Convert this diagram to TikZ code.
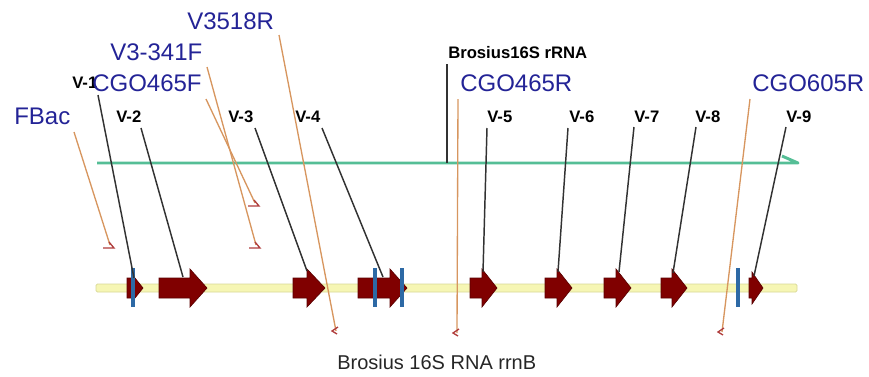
\documentclass[tikz,border=0pt]{standalone}
\usepackage{fontspec}
\setmainfont{Liberation Sans}
\usetikzlibrary{calc}

\definecolor{primerblue}{RGB}{35,35,150}
\definecolor{primerline}{RGB}{215,150,95}
\definecolor{tipred}{RGB}{175,60,60}
\definecolor{genered}{RGB}{128,0,0}
\definecolor{geneedge}{RGB}{90,0,0}
\definecolor{siteblue}{RGB}{45,105,165}
\definecolor{bbfill}{RGB}{246,246,180}
\definecolor{bbedge}{RGB}{215,215,150}
\definecolor{rnagreen}{RGB}{85,190,150}
\definecolor{leader}{RGB}{50,50,50}

% gene arrow: left x, start of head, tip x, half height of head
\newcommand\genearrow[4]{%
  \draw[gene] (#1,278) -- (#2,278) -- (#2,288-#4) -- (#3,288)
    -- (#2,288+#4) -- (#2,298) -- (#1,298) -- cycle;}
% restriction site bar
\newcommand\sitebar[1]{\fill[site] (#1-2,268) rectangle (#1+2,307);}
% primer end marks
\newcommand\slanttip[1]{\draw[tipmark] ($(#1)+(-7,3)$) -- ($(#1)+(4,3)$) -- ($(#1)+(-1,-3)$);}
\newcommand\droptip[1]{\draw[tipmark] ($(#1)+(2,-4)$) -- ($(#1)+(-4,0)$) -- ($(#1)+(1,3)$);}

\begin{document}
\begin{tikzpicture}[x=0.75pt,y=-0.75pt,
  primer/.style={font=\fontsize{18}{20}\selectfont, text=primerblue, anchor=west, inner sep=0pt},
  feat/.style={font=\bfseries\fontsize{12.5}{14}\selectfont, text=black, anchor=west, inner sep=0pt},
  caption/.style={font=\fontsize{15}{17}\selectfont, text=black!85, anchor=west, inner sep=0pt},
  leaderline/.style={draw=leader, line width=1.1pt},
  primerwire/.style={draw=primerline, line width=1pt},
  tipmark/.style={draw=tipred, line width=1pt, line join=miter},
  gene/.style={fill=genered, draw=geneedge, line width=0.5pt, line join=miter},
  site/.style={fill=siteblue, draw=none},
]
\useasboundingbox (0,0) rectangle (869,376);

% sequence backbone
\draw[fill=bbfill, draw=bbedge, line width=0.6pt, rounded corners=1pt] (96,284) rectangle (797,292);

% 16S rRNA feature with harpoon end
\coordinate (rnaL) at (97,163);
\coordinate (rnaR) at (798,163);
\coordinate (rnaH) at (782,156);
\draw[rnagreen, line width=2.2pt, line join=round] (rnaL) -- (rnaR) -- (rnaH);

% gene arrows
\genearrow{127}{135}{143}{10}
\genearrow{159}{190}{207}{19}
\genearrow{293}{307}{325}{19}
\genearrow{358}{390}{407}{19}
\genearrow{470}{482}{497}{19}
\genearrow{545}{557}{572}{19}
\genearrow{604}{616}{631}{19}
\genearrow{661}{672}{687}{19}
\genearrow{749}{752}{763}{16}

% restriction sites
\sitebar{133}
\sitebar{375}
\sitebar{402}
\sitebar{738}

% feature labels
\node[feat] (v1) at (72,83) {V-1};
\node[feat] (v2) at (116,117) {V-2};
\node[feat] (v3) at (228,117) {V-3};
\node[feat] (v4) at (295,117) {V-4};
\node[feat] (v5) at (487,117) {V-5};
\node[feat] (v6) at (569,117) {V-6};
\node[feat] (v7) at (634,117) {V-7};
\node[feat] (v8) at (695,117) {V-8};
\node[feat] (v9) at (786,117) {V-9};
\node[feat] (rna) at (448,53) {Brosius16S rRNA};

% primer labels
\node[primer] (fbac) at (14,116) {FBac};
\node[primer] (cgo465f) at (92,83) {CGO465F};
\node[primer] (v3341f) at (110,52) {V3-341F};
\node[primer] (v3518r) at (187,21) {V3518R};
\node[primer] (cgo465r) at (460,83) {CGO465R};
\node[primer] (cgo605r) at (752,83) {CGO605R};

% sequence name
\node[caption] (seqname) at (337,362) {Brosius 16S RNA rrnB};

% leader lines from labels to features
\coordinate (a1) at (98,95);   \coordinate (b1) at (134,278);
\coordinate (a2) at (141,128); \coordinate (b2) at (183,277);
\coordinate (a3) at (255,128); \coordinate (b3) at (307,271);
\coordinate (a4) at (322,128); \coordinate (b4) at (383,277);
\coordinate (a5) at (487,128); \coordinate (b5) at (483,272);
\coordinate (a6) at (568,128); \coordinate (b6) at (558,272);
\coordinate (a7) at (634,127); \coordinate (b7) at (619,272);
\coordinate (a8) at (696,127); \coordinate (b8) at (673,273);
\coordinate (a9) at (786,127); \coordinate (b9) at (754,276);
\coordinate (ra) at (447,64);  \coordinate (rb) at (447,163);
\foreach \i in {1,...,9} {\draw[leaderline] (a\i) -- (b\i);}
\draw[leaderline] (ra) -- (rb);

% primer binding lines
\coordinate (pfs) at (74,132);  \coordinate (pfe) at (110,245);
\coordinate (pgs) at (206,99);  \coordinate (pge) at (255,203);
\coordinate (pvs) at (207,67);  \coordinate (pve) at (256,245);
\coordinate (prs) at (279,35);  \coordinate (pre) at (336,331);
\coordinate (pcs) at (458,99);  \coordinate (pce) at (457,333);
\coordinate (pds) at (750,99);  \coordinate (pde) at (722,332);
\draw[primerwire] (pfs) -- (pfe);
\draw[primerwire] (pgs) -- (pge);
\draw[primerwire] (pvs) -- (pve);
\draw[primerwire] (prs) -- (pre);
\draw[primerwire] (pcs) -- (pce);
\draw[primerwire] (pds) -- (pde);
\slanttip{pfe}
\slanttip{pge}
\slanttip{pve}
\droptip{pre}
\droptip{pce}
\droptip{pde}
\end{tikzpicture}
\end{document}
